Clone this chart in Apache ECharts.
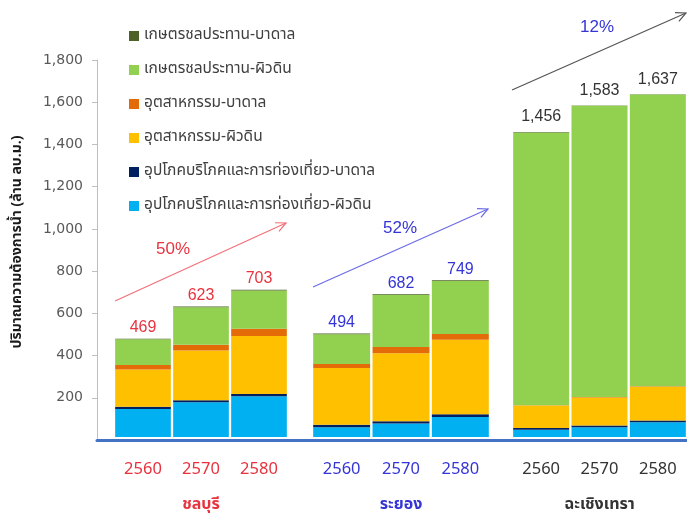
<!DOCTYPE html>
<html>
<head>
<meta charset="utf-8">
<script src="https://cdn.jsdelivr.net/npm/echarts@6/dist/echarts.min.js"></script>
<style>html,body{margin:0;padding:0;background:#fff}#c{width:687px;height:519px}</style>
</head>
<body>
<div id="c"></div>
<script>
// ---- data ----
const years = ['2560', '2570', '2580'];
const provinces = ['ชลบุรี', 'ระยอง', 'ฉะเชิงเทรา'];
const seriesNames = [
  'อุปโภคบริโภคและการท่องเที่ยว-ผิวดิน',
  'อุปโภคบริโภคและการท่องเที่ยว-บาดาล',
  'อุตสาหกรรม-ผิวดิน',
  'อุตสาหกรรม-บาดาล',
  'เกษตรชลประทาน-ผิวดิน',
  'เกษตรชลประทาน-บาดาล'
];
// values: Chonburi 2560,2570,2580 | Rayong 2560,2570,2580 | Chachoengsao 2560,2570,2580
const domSurface = [134, 166, 195, 47, 65, 95, 35, 47, 71];
const domGround  = [10, 10, 10, 11, 10, 14, 8, 8, 8];
const indSurface = [178, 237, 277, 271, 325, 355, 107, 134, 161];
const indGround  = [22, 27, 35, 20, 30, 28, 2, 2, 2];
const agrSurface = [123, 180, 183, 142, 248, 253, 1302, 1390, 1393];
const agrGround  = [2, 3, 3, 3, 4, 4, 2, 2, 2];
const totals     = [469, 623, 703, 494, 682, 749, 1456, 1583, 1637];
const yTicks = [0, 200, 400, 600, 800, 1000, 1200, 1400, 1600, 1800];
const growthLabels = ['50%', '52%', '12%'];

const seriesValues = [domSurface, domGround, indSurface, indGround, agrSurface, agrGround];
const seriesColors = ['#00b0f0', '#002060', '#ffc000', '#e36c09', '#92d050', '#4f6228'];
const groupColors = ['#e8333f', '#3535d6', '#333333'];
const labelDistance = [3, 3, 7];
const FONT = "'Noto Sans Thai','Tahoma','DejaVu Sans',sans-serif";

const chart = echarts.init(document.getElementById('c'));

const TOP = 60, BOTTOM = 79;
const grids = [
  { left: 97, right: 0, top: TOP, bottom: BOTTOM },
  { left: 114, width: 174, top: TOP, bottom: BOTTOM },
  { left: 312, width: 178, top: TOP, bottom: BOTTOM },
  { left: 512, width: 178, top: TOP, bottom: BOTTOM }
];

const xAxes = [{
  gridIndex: 0, type: 'category', data: [''],
  axisLine: { show: true, lineStyle: { color: '#4472c4', width: 3 } },
  axisTick: { show: false }, axisLabel: { show: false }, splitLine: { show: false }
}];
const yAxes = [{
  gridIndex: 0, type: 'value', min: yTicks[0], max: yTicks[yTicks.length - 1], interval: yTicks[1] - yTicks[0],
  name: 'ปริมาณความต้องการน้ำ (ล้าน ลบ.ม.)',
  nameLocation: 'middle', nameGap: 72,
  nameTextStyle: { fontFamily: FONT, fontSize: 14, fontWeight: 'bold', color: '#1a1a1a', padding: [0, 0, 0, 16] },
  axisLine: { show: true, lineStyle: { color: '#bfbfbf' } },
  axisTick: { show: true, length: 5, lineStyle: { color: '#bfbfbf' } },
  axisLabel: {
    showMinLabel: false, margin: 14, color: '#595959', fontSize: 14, fontFamily: 'DejaVu Sans',
    formatter: v => v.toLocaleString('en-US')
  },
  splitLine: { show: false }
}];

provinces.forEach((p, g) => {
  xAxes.push({
    gridIndex: g + 1, type: 'category', data: years,
    axisLine: { show: false }, axisTick: { show: false },
    axisLabel: { color: groupColors[g], fontSize: 16.5, margin: 24, fontFamily: 'Noto Sans' },
    name: p, nameLocation: 'middle', nameGap: 61,
    nameTextStyle: { color: groupColors[g], fontSize: 16, fontWeight: 'bold', fontFamily: FONT }
  });
  yAxes.push({ gridIndex: g + 1, type: 'value', min: yTicks[0], max: yTicks[yTicks.length - 1], show: false });
});

const series = [];
provinces.forEach((p, g) => {
  seriesNames.forEach((name, s) => {
    const isTop = s === seriesNames.length - 1;
    series.push({
      name, type: 'bar', stack: 'g' + g,
      xAxisIndex: g + 1, yAxisIndex: g + 1,
      barCategoryGap: '4%',
      itemStyle: { color: seriesColors[s] },
      data: seriesValues[s].slice(g * 3, g * 3 + 3),
      label: isTop ? {
        show: true, position: 'top', distance: labelDistance[g],
        color: groupColors[g], fontSize: 16, fontFamily: 'Liberation Sans',
        formatter: prm => totals[g * 3 + prm.dataIndex].toLocaleString('en-US')
      } : { show: false }
    });
  });
});

function arrow(x1, y1, x2, y2, color) {
  const a = Math.atan2(y2 - y1, x2 - x1);
  const L = 11, s = 0.45;
  return [
    { type: 'line', shape: { x1, y1, x2, y2 }, style: { stroke: color, lineWidth: 1.2 } },
    { type: 'polyline', shape: { points: [
      [x2 - L * Math.cos(a - s), y2 - L * Math.sin(a - s)], [x2, y2],
      [x2 - L * Math.cos(a + s), y2 - L * Math.sin(a + s)]] },
      style: { stroke: color, lineWidth: 1.2, fill: null } }
  ];
}
const graphic = [].concat(
  arrow(115, 301, 286, 223, '#f2707a'),
  arrow(313, 287, 488, 209, '#6b6be6'),
  arrow(512, 90, 686, 13, '#555555'),
  [
    { type: 'text', x: 173, y: 249, style: { text: growthLabels[0], fill: '#e8333f', font: "17px 'Liberation Sans'", align: 'center', verticalAlign: 'middle' } },
    { type: 'text', x: 400, y: 228, style: { text: growthLabels[1], fill: '#3535d6', font: "17px 'Liberation Sans'", align: 'center', verticalAlign: 'middle' } },
    { type: 'text', x: 597, y: 27, style: { text: growthLabels[2], fill: '#3535d6', font: "17px 'Liberation Sans'", align: 'center', verticalAlign: 'middle' } }
  ]
);

chart.setOption({
  animation: false,
  textStyle: { fontFamily: FONT },
  grid: grids,
  xAxis: xAxes,
  yAxis: yAxes,
  legend: {
    data: seriesNames.slice().reverse(),
    orient: 'vertical', left: 124, top: 23,
    itemWidth: 10, itemHeight: 10, itemGap: 18,
    icon: 'rect', backgroundColor: '#ffffff',
    textStyle: { fontFamily: FONT, fontSize: 15.5, color: '#404040' }
  },
  graphic,
  series
});
</script>
</body>
</html>
